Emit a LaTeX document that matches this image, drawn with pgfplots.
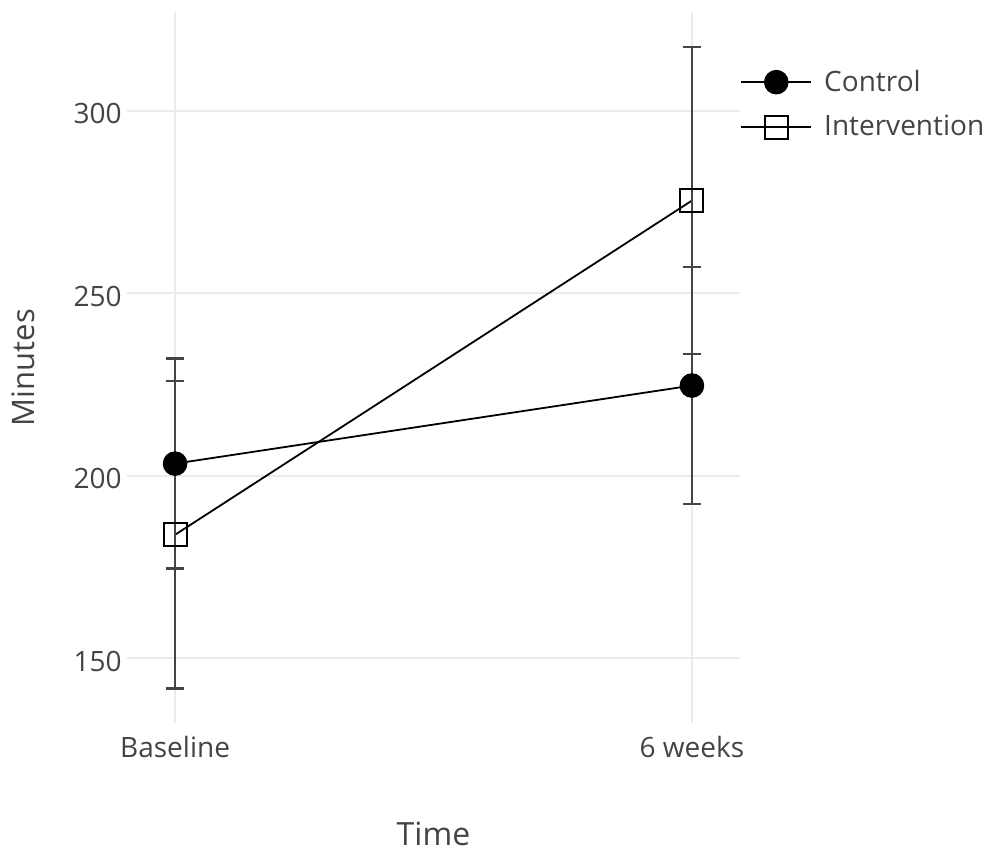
\documentclass[border=0pt]{standalone}
\usepackage{pgfplots}
\pgfplotsset{compat=1.18}
\usepackage{fontspec}
\setmainfont{Open Sans}
\definecolor{txt}{HTML}{444444}
\definecolor{gridc}{HTML}{EBEBEB}
\definecolor{errc}{HTML}{444444}

\pgfplotsset{
  errstyle/.style={
    error bars/.cd,
      y dir=both, y explicit,
      error bar style={line width=1.3pt, color=errc},
      error mark options={rotate=90, mark size=4.5pt, line width=1.3pt, color=errc},
  },
}

\begin{document}
\begin{tikzpicture}
\path[use as bounding box] (-63.5pt,-64pt) rectangle (431pt,361.5pt);
\begin{axis}[
  scale only axis,
  width=306.5pt, height=355.5pt,
  xmin=-0.093, xmax=1.093,
  ymin=132.2, ymax=327.1,
  axis line style={draw=none},
  tick style={draw=none},
  major tick length=0pt,
  grid=major,
  major grid style={color=gridc, line width=1pt},
  xtick={0,1},
  xticklabels={Baseline,6 weeks},
  ytick={150,200,250,300},
  /pgf/number format/assume math mode=true,
  ticklabel style={font=\fontsize{14}{16}\selectfont, text=txt},
  yticklabel style={inner sep=0pt, xshift=-2.5pt, yshift=-1.5pt},
  xticklabel style={inner sep=0pt, anchor=base, yshift=-17pt},
  every axis y label/.style={at={([xshift=-46pt]axis description cs:0,0.5)}, rotate=90, anchor=base, font=\fontsize{15.5}{18}\selectfont, text=txt},
  every axis x label/.style={at={([yshift=-61pt]axis description cs:0.5,0)}, anchor=base, font=\fontsize{16}{18}\selectfont, text=txt},
  xlabel={Time},
  ylabel={Minutes},
  legend style={at={(1,0.870)}, anchor=west, draw=none, fill=none,
    inner sep=0pt, row sep=10.5pt, font=\fontsize{14}{16}\selectfont, text=txt,
    nodes={inner sep=0pt}},
  legend cell align=left,
  legend image code/.code={%
    \draw[mark repeat=2, mark phase=2, #1] plot coordinates {(0pt,0pt) (17.5pt,0pt) (35pt,0pt)};
    \path (41pt,0pt);},
]
% Control group: mean minutes with error bars
\addplot[black, line width=0.9pt, mark=*, mark size=5.9pt,
  mark options={fill=black, draw=black, line width=0.5pt}, errstyle]
  coordinates {(0,203.3) +- (0,28.8) (1,224.7) +- (0,32.5)};
\addlegendentry{Control}
% Intervention group: mean minutes with error bars
\addplot[black, line width=0.9pt, mark=square, mark size=5.75pt,
  mark options={fill=none, draw=black, line width=1pt}, errstyle]
  coordinates {(0,183.8) +- (0,42.1) (1,275.4) +- (0,42.1)};
\addlegendentry{Intervention}
\end{axis}
\end{tikzpicture}
\end{document}
